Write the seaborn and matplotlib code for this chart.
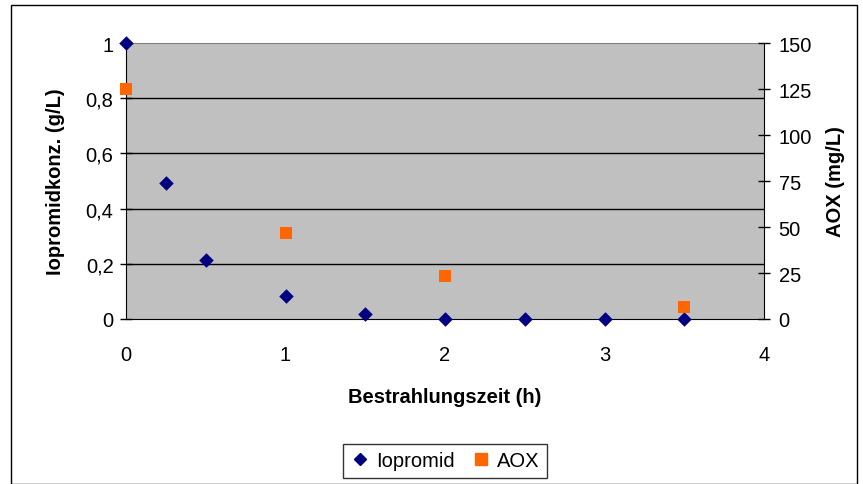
import matplotlib
matplotlib.use("Agg")
import matplotlib.pyplot as plt
import seaborn as sns
import pandas as pd
from matplotlib.patches import Rectangle
from matplotlib.lines import Line2D
from matplotlib.ticker import FuncFormatter

time_iopromid = [0, 0.25, 0.5, 1.0, 1.5, 2.0, 2.5, 3.0, 3.5]
iopromid = [1.0, 0.493, 0.214, 0.085, 0.018, 0.0, 0.0, 0.0, 0.0]
time_aox = [0, 1.0, 2.0, 3.5]
aox = [125, 47, 23.5, 6.7]

left_ticks = [0, 0.2, 0.4, 0.6, 0.8, 1.0]
right_ticks = [0, 25, 50, 75, 100, 125, 150]
x_ticks = [0, 1, 2, 3, 4]

sns.set_style("white")
plt.rcParams["font.family"] = ["Liberation Sans", "DejaVu Sans"]
plt.rcParams["text.color"] = "black"
plt.rcParams["axes.labelcolor"] = "black"
plt.rcParams["xtick.color"] = "black"
plt.rcParams["ytick.color"] = "black"

FS = 14.5

fig = plt.figure(figsize=(8.63, 4.85), dpi=100)
ax = fig.add_axes([126/863, 1-320/485, (764-126)/863, (320-44)/485])
ax2 = ax.twinx()

df1 = pd.DataFrame({"t": time_iopromid, "v": iopromid})
df2 = pd.DataFrame({"t": time_aox, "v": aox})

ax.set_facecolor("#C0C0C0")
sns.scatterplot(data=df1, x="t", y="v", ax=ax, marker="D", color="#000080",
                s=55, edgecolor="#000080", linewidth=0, clip_on=False, zorder=5)
sns.scatterplot(data=df2, x="t", y="v", ax=ax2, marker="s", color="#FF6600",
                s=85, edgecolor="#FF6600", linewidth=0, clip_on=False, zorder=5)

ax.set_xlim(0, 4)
ax.set_ylim(0, 1)
ax2.set_ylim(0, 150)
ax.set_xticks(x_ticks)
ax.set_yticks(left_ticks)
ax2.set_yticks(right_ticks)
ax.yaxis.set_major_formatter(FuncFormatter(lambda v, p: ("%g" % v).replace(".", ",")))

for y in left_ticks[1:-1]:
    ax.axhline(y, color="black", linewidth=1, zorder=1)

ax.tick_params(axis="x", labelsize=FS, length=5, width=1, direction="out", pad=14)
ax.tick_params(axis="y", labelsize=FS, length=8, width=1, direction="inout", pad=5)
ax2.tick_params(axis="y", labelsize=FS, length=9, width=1, direction="inout", pad=6)

for a in (ax, ax2):
    for s in a.spines.values():
        s.set_visible(False)
ax.spines["left"].set_visible(True)
ax.spines["bottom"].set_visible(True)
ax.spines["left"].set_color("black")
ax.spines["bottom"].set_color("black")
ax2.spines["right"].set_visible(True)
ax2.spines["right"].set_color("black")
ax.spines["top"].set_visible(True)
ax.spines["top"].set_color("#808080")

ax.set_xlabel("Bestrahlungszeit (h)", fontsize=FS, fontweight="bold", labelpad=16)
ax.set_ylabel("Iopromidkonz. (g/L)", fontsize=FS, fontweight="bold", labelpad=15)
ax2.set_ylabel("AOX (mg/L)", fontsize=FS, fontweight="bold", labelpad=10)

handles = [
    Line2D([], [], marker="D", color="#000080", linestyle="none", markersize=6),
    Line2D([], [], marker="s", color="#FF6600", linestyle="none", markersize=8),
]
leg = fig.legend(handles, ["Iopromid", "AOX"], loc="center", bbox_to_anchor=(445/863, 1-462/485),
                 ncol=2, fontsize=FS, frameon=True, fancybox=False, handlelength=1,
                 handletextpad=0.3, columnspacing=0.8, borderpad=0.35)
leg.get_frame().set_edgecolor("black")
leg.get_frame().set_linewidth(1)

fig.patches.append(Rectangle((11/863, 0), (857-11)/863, 1-6/485, transform=fig.transFigure,
                             fill=False, edgecolor="black", linewidth=1))

fig.savefig("out.png", dpi=100)
